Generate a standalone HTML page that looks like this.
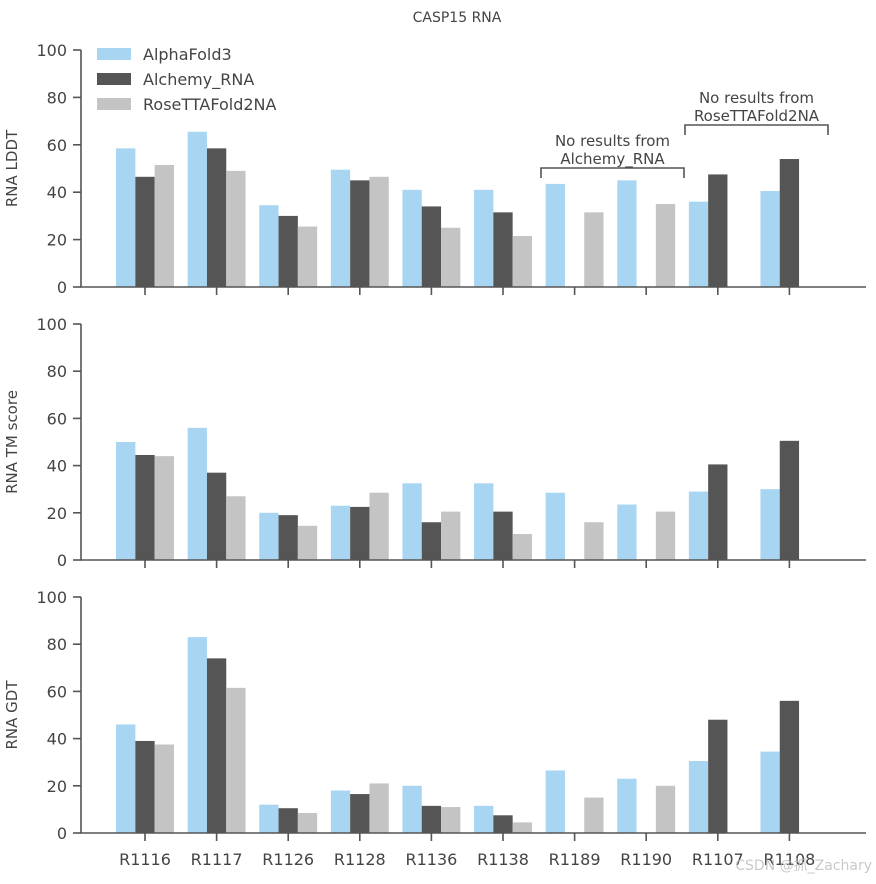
<!DOCTYPE html>
<html><head><meta charset="utf-8"><style>
body{margin:0;background:#fff;}
svg{font-family:"DejaVu Sans","Liberation Sans","Noto Sans CJK SC",sans-serif;}
</style></head><body>
<svg id="c" width="876" height="879"></svg>
<script>
const categories=["R1116","R1117","R1126","R1128","R1136","R1138","R1189","R1190","R1107","R1108"];
const seriesNames=["AlphaFold3","Alchemy_RNA","RoseTTAFold2NA"];
const lddtAF=[58.5,65.5,34.5,49.5,41,41,43.5,45,36,40.5];
const lddtAlc=[46.5,58.5,30,45,34,31.5,null,null,47.5,54];
const lddtRose=[51.5,49,25.5,46.5,25,21.5,31.5,35,null,null];
const tmAF=[50,56,20,23,32.5,32.5,28.5,23.5,29,30];
const tmAlc=[44.5,37,19,22.5,16,20.5,null,null,40.5,50.5];
const tmRose=[44,27,14.5,28.5,20.5,11,16,20.5,null,null];
const gdtAF=[46,83,12,18,20,11.5,26.5,23,30.5,34.5];
const gdtAlc=[39,74,10.5,16.5,11.5,7.5,null,null,48,56];
const gdtRose=[37.5,61.5,8.5,21,11,4.5,15,20,null,null];
const yTicks=[0,20,40,60,80,100];
const panelTitles=["RNA LDDT","RNA TM score","RNA GDT"];

const NS="http://www.w3.org/2000/svg";
const svg=document.getElementById('c');
const colors=["#a8d5f2","#555555","#c4c4c4"];
const axc="#555";
function el(t,a,p){const e=document.createElementNS(NS,t);for(const k in a)e.setAttribute(k,a[k]);(p||svg).appendChild(e);return e;}
const x0=145,dx=71.6,bw=19.3,left=81,right=866;
const xS=i=>x0+i*dx;
const panels=[{b:287,t:50,d:[lddtAF,lddtAlc,lddtRose]},{b:560,t:324,d:[tmAF,tmAlc,tmRose]},{b:833,t:597,d:[gdtAF,gdtAlc,gdtRose]}];

let t=el('text',{x:457,y:22,'text-anchor':'middle','font-size':14,fill:'#444'});t.textContent="CASP15 RNA";



panels.forEach((p,pi)=>{
  const y=v=>p.b-(v/100)*(p.b-p.t);
  const g=el('g',{});
  
  
  p.d.forEach((s,si)=>{
    s.forEach((v,i)=>{
      if(v==null)return;
      const r=el('rect',{x:xS(i)+(si-1)*bw-bw/2,y:y(v),width:bw,height:p.b-y(v),fill:colors[si]},g);
      
      
    });
  });
  const ax=el('path',{d:`M${left} ${p.t}V${p.b}H${right}`,stroke:axc,'stroke-width':1.6,fill:'none'},g);
  
  
  yTicks.forEach(v=>{
    el('line',{x1:left-8,x2:left,y1:y(v),y2:y(v),stroke:axc,'stroke-width':1.6},g);
    const tt=el('text',{x:left-14,y:y(v)+6,'text-anchor':'end','font-size':16,fill:'#444'},g);
    tt.textContent=v;
    
    
  });
  categories.forEach((c,i)=>{
    el('line',{x1:xS(i),x2:xS(i),y1:p.b,y2:p.b+8,stroke:axc,'stroke-width':1.6},g);
    if(pi===2){
      const tt=el('text',{x:xS(i),y:p.b+32,'text-anchor':'middle','font-size':16,fill:'#444'},g);
      tt.textContent=c;
      
      
    }
  });
  const yt=el('text',{x:0,y:0,'text-anchor':'middle','font-size':15,fill:'#444',transform:`translate(17,${(p.t+p.b)/2}) rotate(-90)`},g);
  yt.textContent=panelTitles[pi];
  
  
});

seriesNames.forEach((n,i)=>{
  const r=el('rect',{x:97,y:48+i*25,width:34,height:12,fill:colors[i]});
  
  
  const tt=el('text',{x:143,y:60+i*25,'font-size':16,fill:'#444'});
  tt.textContent=n;
  
  
});

function bracket(x1,x2,yb,l1,l2,name){
  const g=el('g',{});
  
  
  el('path',{d:`M${x1} ${yb+10}V${yb}H${x2}V${yb+10}`,stroke:axc,'stroke-width':1.6,fill:'none'},g);
  const a=el('text',{x:(x1+x2)/2,y:yb-22,'text-anchor':'middle','font-size':15,fill:'#444'},g);a.textContent=l1;
  const b=el('text',{x:(x1+x2)/2,y:yb-4,'text-anchor':'middle','font-size':15,fill:'#444'},g);b.textContent=l2;
}
bracket(541,684,168,"No results from","Alchemy_RNA","annotation-no-alchemy");
bracket(685,828,125,"No results from","RoseTTAFold2NA","annotation-no-rosetta");

const w=el('text',{x:872,y:870,'text-anchor':'end','font-size':14,fill:'#bbb','fill-opacity':0.8});
w.textContent="CSDN @抓_Zachary";


</script>
</body></html>
